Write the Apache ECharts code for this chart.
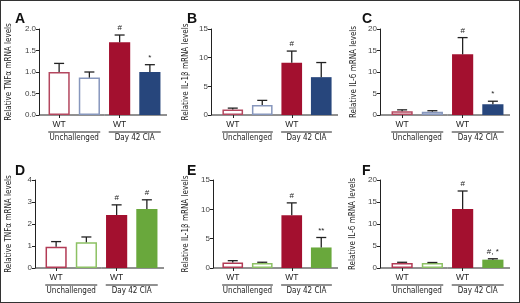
<!DOCTYPE html>
<html>
<head>
<meta charset="utf-8">
<script src="https://cdn.jsdelivr.net/npm/echarts@6/dist/echarts.min.js"></script>
<style>
html, body { margin: 0; padding: 0; background: #fff; }
#main { width: 520px; height: 303px; box-sizing: border-box; border: 1px solid #333; }
</style>
</head>
<body>
<div id="main"></div>
<script>
// 横轴分类
var catsUpa = ['WT', 'Plau-/-', 'WT', 'Plau-/-'];
var catsUpar = ['WT', 'Plaur-/-', 'WT', 'Plaur-/-'];
var groups = ['Unchallenged', 'Day 42 CIA'];

// 各面板均值与误差棒顶端
var aMean = [1.0, 0.87, 1.69, 1.0];
var aTop = [1.2, 1.0, 1.86, 1.17];
var bMean = [0.95, 1.75, 9.1, 6.6];
var bTop = [1.2, 2.55, 11.15, 9.15];
var cMean = [0.85, 0.78, 14.1, 2.5];
var cTop = [1.2, 1.0, 18.0, 3.2];
var dMean = [0.97, 1.17, 2.41, 2.68];
var dTop = [1.2, 1.41, 2.87, 3.1];
var eMean = [0.95, 0.86, 9.0, 3.5];
var eTop = [1.25, 0.98, 11.1, 5.2];
var fMean = [1.15, 1.15, 13.4, 1.9];
var fTop = [1.3, 1.25, 17.5, 2.1];

// 显著性标记
var aMarks = ['', '', '#', '*'];
var bMarks = ['', '', '#', ''];
var cMarks = ['', '', '#', '*'];
var dMarks = ['', '', '#', '#'];
var eMarks = ['', '', '#', '**'];
var fMarks = ['', '', '#', '#, *'];

// 纵轴刻度
var yMax = [2, 15, 20, 4, 15, 20];
var yStep = [0.5, 5, 5, 1, 5, 5];
var yTitles = ['Relative TNFα mRNA levels', 'Relative IL-1β mRNA levels', 'Relative IL-6 mRNA levels',
               'Relative TNFα mRNA levels', 'Relative IL-1β mRNA levels', 'Relative IL-6 mRNA levels'];
var letters = ['A', 'B', 'C', 'D', 'E', 'F'];

var RED = '#a3102f';
var NAVY = '#27467c';
var GREEN = '#69a83c';
var narrow = "'Liberation Sans Narrow', 'DejaVu Sans Condensed', sans-serif";
var plain = "'Liberation Sans', Arial, sans-serif";

var panels = [
    {mean: aMean, top: aTop, marks: aMarks, cats: catsUpa, out: ['#b4475f', '#8797bd'], fill: [RED, NAVY],
     left: 43, width: 121, off: 5, gridTop: 28, h: 86, letter: [9, 6], gap: 26},
    {mean: bMean, top: bTop, marks: bMarks, cats: catsUpa, out: ['#b4475f', '#8797bd'], fill: [RED, NAVY],
     left: 217, width: 118, off: 7, gridTop: 28, h: 86, letter: [181, 6], gap: 21},
    {mean: cMean, top: cTop, marks: cMarks, cats: catsUpa, out: ['#b4475f', '#8797bd'], fill: [RED, NAVY],
     left: 386, width: 121, off: 7, gridTop: 28, h: 86, letter: [356, 6], gap: 22},
    {mean: dMean, top: dTop, marks: dMarks, cats: catsUpar, out: ['#b23a55', '#8cc163'], fill: [RED, GREEN],
     left: 40, width: 121, off: 6, gridTop: 179, h: 88, letter: [9, 158], gap: 22},
    {mean: eMean, top: eTop, marks: eMarks, cats: catsUpar, out: ['#b23a55', '#8cc163'], fill: [RED, GREEN],
     left: 217, width: 118, off: 5, gridTop: 179, h: 88, letter: [181, 158], gap: 23},
    {mean: fMean, top: fTop, marks: fMarks, cats: catsUpar, out: ['#b23a55', '#8cc163'], fill: [RED, GREEN],
     left: 386, width: 121, off: 7, gridTop: 179, h: 88, letter: [356, 158], gap: 23}
];

var chart = echarts.init(document.getElementById('main'));
var grid = [], xAxis = [], yAxis = [], series = [], title = [];

panels.forEach(function (p, k) {
    grid.push({left: p.left, top: p.gridTop, width: p.width, height: p.h});
    title.push({text: letters[k], left: p.letter[0], top: p.letter[1],
        textStyle: {fontSize: 14, fontWeight: 'bold', color: '#111', fontFamily: plain}});
    xAxis.push({
        gridIndex: k, type: 'category', data: p.cats,
        axisLine: {show: false},
        axisTick: {show: true, alignWithLabel: true, length: 3, lineStyle: {color: '#222'}},
        axisLabel: {
            fontSize: 8.5, color: '#222', fontFamily: plain, margin: 5,
            formatter: function (v) { return v === 'WT' ? v : '{i|' + v + '}'; },
            rich: {i: {fontStyle: 'italic', fontSize: 8.5, color: '#222', fontFamily: plain}}
        }
    });
    yAxis.push({
        gridIndex: k, type: 'value', min: 0, max: yMax[k], interval: yStep[k], offset: p.off,
        name: yTitles[k], nameLocation: 'middle', nameGap: p.gap,
        nameTextStyle: {fontSize: 8, color: '#222', fontFamily: narrow},
        axisLine: {show: true, lineStyle: {color: '#222', width: 1}},
        axisTick: {show: true, length: 3, lineStyle: {color: '#222'}},
        splitLine: {show: false},
        axisLabel: {
            fontSize: 8, color: '#444', fontFamily: plain, margin: 3,
            formatter: function (v) { return yStep[k] < 1 ? v.toFixed(1) : v; }
        }
    });
    series.push({
        type: 'bar', xAxisIndex: k, yAxisIndex: k, barWidth: '70%', silent: true,
        data: p.mean.map(function (v, i) {
            var grp = i < 2 ? 0 : 1;
            var col = p.out[i % 2];
            if (grp === 0) {
                return {value: v, itemStyle: {color: '#fff', borderColor: col, borderWidth: 1.5}};
            }
            return {value: v, itemStyle: {color: p.fill[i % 2]}};
        })
    });
    // 误差棒 + 显著性标记
    series.push({
        type: 'custom', xAxisIndex: k, yAxisIndex: k, silent: true, z: 5,
        data: p.mean.map(function (v, i) { return [i, v, p.top[i]]; }),
        renderItem: function (params, api) {
            var a = api.coord([api.value(0), api.value(1)]);
            var b = api.coord([api.value(0), api.value(2)]);
            var kids = [
                {type: 'line', shape: {x1: a[0], y1: a[1], x2: b[0], y2: b[1]}, style: {stroke: '#222', lineWidth: 1.3}},
                {type: 'line', shape: {x1: b[0] - 5, y1: b[1], x2: b[0] + 5, y2: b[1]}, style: {stroke: '#222', lineWidth: 1.3}}
            ];
            var m = p.marks[params.dataIndex];
            if (m) {
                kids.push({type: 'text', style: {text: m, x: b[0], y: b[1] - 3, align: 'center', verticalAlign: 'bottom',
                    fontSize: 8, fill: '#222', fontFamily: plain}});
            }
            return {type: 'group', children: kids};
        }
    });
    // 分组下划线和组名, 以及补齐横轴线
    series.push({
        type: 'custom', xAxisIndex: k, yAxisIndex: k, silent: true, clip: false,
        data: [[0, 1], [2, 3]],
        renderItem: function (params, api) {
            var band = api.size([1, 0])[0];
            var c0 = api.coord([api.value(0), 0]);
            var c1 = api.coord([api.value(1), 0]);
            var x0 = c0[0] - band * 0.36, x1 = c1[0] + band * 0.36;
            var kids = [
                {type: 'line', shape: {x1: x0, y1: c0[1] + 17, x2: x1, y2: c0[1] + 17}, style: {stroke: '#222', lineWidth: 1}},
                {type: 'text', style: {text: groups[params.dataIndex], x: (x0 + x1) / 2, y: c0[1] + 19,
                    align: 'center', verticalAlign: 'top', fontSize: 8, fill: '#222', fontFamily: narrow}}
            ];
            // 横轴线 (从纵轴起到组末)
            var lineL = params.dataIndex === 0 ? c0[0] - band / 2 - p.off : c0[0] - band / 2;
            var lineR = params.dataIndex === 0 ? c1[0] + band / 2 : c1[0] + band / 2 + 2;
            kids.push({type: 'line', shape: {x1: lineL, y1: c0[1], x2: lineR, y2: c0[1]}, style: {stroke: '#222', lineWidth: 1}});
            return {type: 'group', children: kids};
        }
    });
});

chart.setOption({
    animation: false,
    title: title,
    grid: grid,
    xAxis: xAxis,
    yAxis: yAxis,
    series: series
});
</script>
</body>
</html>
